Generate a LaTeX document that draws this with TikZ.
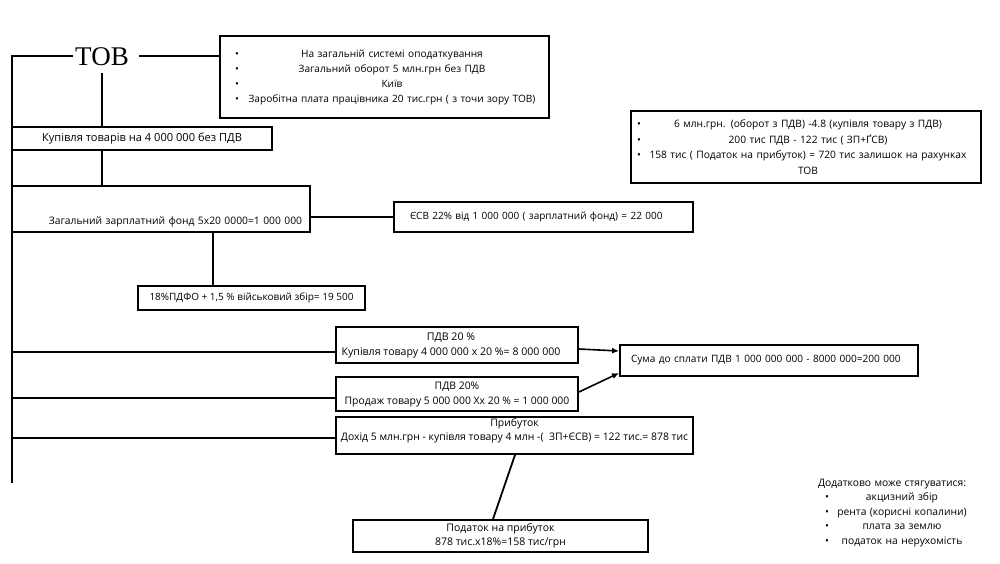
\documentclass[tikz,border=0pt]{standalone}
\usepackage{fontspec}
\setmainfont{Open Sans}
\newfontfamily\tovfont{Liberation Serif}
\usetikzlibrary{arrows.meta,calc}
% line of width #1: bullet centred at #2, text centred at #3 (from the left)
\newcommand\bline[4]{\leavevmode\hbox to #1{\rlap{\kern#2\relax\hbox to 0pt{\hss•\hss}}\rlap{\kern#3\relax\hbox to 0pt{\hss#4\hss}}\hss}}
\newcommand\tline[3]{\leavevmode\hbox to #1{\rlap{\kern#2\relax\hbox to 0pt{\hss#3\hss}}\hss}}
\newcommand\fs[2]{\fontsize{#1}{#2}\selectfont}
\begin{document}
\begin{tikzpicture}[x=1pt,y=-1pt,
  box/.style={draw, line width=1.8pt, inner sep=0pt, font=\fs{10}{15}},
  conn/.style={line width=1.8pt},
  arr/.style={line width=1.6pt, -{Latex[length=7pt,width=6pt]}}]
\useasboundingbox (0,0) rectangle (1000,563);

\node[font=\tovfont\fs{27}{27}, inner sep=0pt, anchor=base] (tov) at (102,65) {ТОВ};

\node[box, minimum width=329pt, minimum height=82pt, text width=329pt, align=left, font=\fs{10.1}{15}] (info1) at (384.5,77)
 {\bline{329pt}{17pt}{172pt}{На загальній системі оподаткування}\\
  \bline{329pt}{17pt}{172pt}{Загальний оборот 5 млн.грн без ПДВ}\\
  \bline{329pt}{17pt}{172pt}{Київ}\\
  \bline{329pt}{17pt}{172pt}{Заробітна плата працівника 20 тис.грн ( з точи зору ТОВ)}};

\node[box, minimum width=350pt, minimum height=72pt, text width=350pt, align=left, font=\fs{10.2}{15.7}] (info2) at (806,147)
 {\bline{350pt}{8pt}{177pt}{6 млн.грн. (оборот з ПДВ) -4.8 (купівля товару з ПДВ)}\\
  \bline{350pt}{8pt}{177pt}{200 тис ПДВ - 122 тис ( ЗП+ҐСВ)}\\
  \bline{350pt}{8pt}{177pt}{158 тис ( Податок на прибуток) = 720 тис залишок на рахунках}\\
  \tline{350pt}{177pt}{ТОВ}};

\node[box, minimum width=260pt, minimum height=23pt, font=\fs{11.1}{15}] (kup) at (142,138.5) {Купівля товарів на 4 000 000 без ПДВ};

\node[box, minimum width=298pt, minimum height=46pt, text width=282pt, inner xsep=8pt, align=right, text height=0pt, text depth=0pt, font=\fs{10.3}{15}] (zf) at (161,209)
 {\raisebox{-15.5pt}{Загальний зарплатний фонд 5x20 0000=1 000 000}};

\node[box, minimum width=299pt, minimum height=30pt, text width=267pt, inner xsep=16pt, align=left] (esv) at (543.5,217)
 {ЄСВ 22\% від 1 000 000 ( зарплатний фонд) = 22 000};

\node[box, minimum width=227pt, minimum height=24pt] (pdfo) at (251.5,298) {18\%ПДФО + 1,5 \% військовий збір= 19 500};

\node[box, minimum width=242pt, minimum height=36pt, align=center, font=\fs{10.6}{15}] (pdv1) at (457,345)
 {\kern-12pt ПДВ 20 \%\\\kern-12pt Купівля товару 4 000 000 х 20 \%= 8 000 000};

\node[box, minimum width=242pt, minimum height=34pt, align=center, font=\fs{10.4}{15}] (pdv2) at (457,394)
 {ПДВ 20\%\\Продаж товару 5 000 000 Хх 20 \% = 1 000 000};

\node[box, minimum width=298pt, minimum height=31pt, text width=276pt, inner xsep=11pt, align=left, font=\fs{10.1}{15}] (sum) at (769,360.5)
 {Сума до сплати ПДВ 1 000 000 000 - 8000 000=200 000};

\node[box, minimum width=357pt, minimum height=37pt, align=center, font=\fs{10.4}{14}] (prib) at (514.5,435.5)
 {Прибуток\\Дохід 5 млн.грн - купівля товару 4 млн -(\ \ ЗП+ЄСВ) = 122 тис.= 878 тис\\[-6pt]\strut};

\node[box, minimum width=295pt, minimum height=32pt, align=center, font=\fs{10.5}{14}] (pod) at (500.5,536)
 {Податок на прибуток\\878 тис.х18\%=158 тис/грн};

\node[inner sep=0pt, text width=150pt, align=left, font=\fs{10.3}{14.5}] (extra) at (893,513)
 {Додатково може стягуватися:\\
  \bline{150pt}{9pt}{84pt}{акцизний збір}\\
  \bline{150pt}{9pt}{84pt}{рента (корисні копалини)}\\
  \bline{150pt}{9pt}{84pt}{плата за землю}\\
  \bline{150pt}{9pt}{84pt}{податок на нерухомість}};

% connectors
\coordinate (top) at (12,57);
\coordinate (bot) at (12,483);
\coordinate (l1) at (12,352);
\coordinate (l2) at (12,398);
\coordinate (l3) at (12,438);
\coordinate (pdfox) at (213,298);
\draw[conn] ([xshift=-2pt]tov.west) -- (tov.west -| top) -- (bot);
\draw[conn] ([xshift=10pt]tov.east) -- (tov.east -| info1.west);
\draw[conn] ([yshift=-8pt]tov.south) -- (tov.south |- kup.north);
\draw[conn] (tov.south |- kup.south) -- (tov.south |- zf.north);
\draw[conn] (esv.west -| zf.east) -- (esv.west);
\draw[conn] (pdfox |- zf.south) -- (pdfox |- pdfo.north);
\draw[conn] (l1) -- (l1 -| pdv1.west);
\draw[conn] (l2) -- (l2 -| pdv2.west);
\draw[conn] (l3) -- (l3 -| prib.west);
\draw[arr] ([yshift=-4pt]pdv1.east) -- ([yshift=9.5pt]sum.west);
\draw[arr] ([yshift=2pt]pdv2.east) -- ([yshift=-12.5pt]sum.west);
\draw[conn] ([xshift=0.5pt]prib.south) -- ([xshift=-7.5pt]pod.north);
\end{tikzpicture}
\end{document}
